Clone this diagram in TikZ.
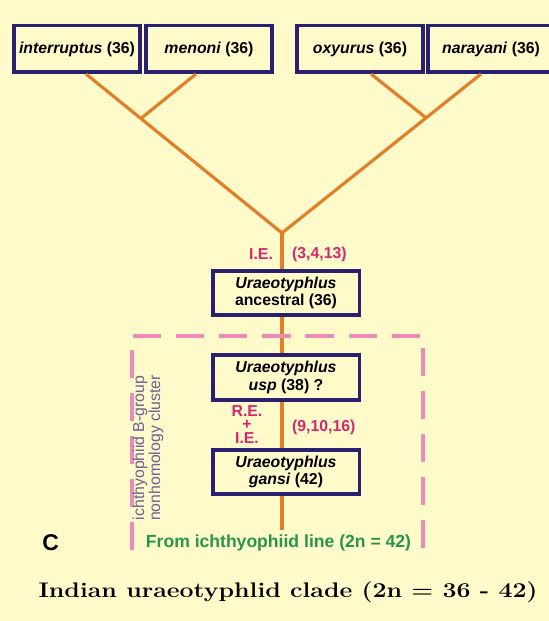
\documentclass[tikz,border=0pt]{standalone}
\usepackage{fontspec}
\usepackage{xcolor}
\usepackage{tikz}
\usetikzlibrary{arrows.meta,positioning,calc}
\newfontfamily\arialfont{Liberation Sans}
\definecolor{bgyellow}{RGB}{255,250,202}
\definecolor{boxnavy}{RGB}{42,32,112}
\definecolor{branchorange}{RGB}{226,128,42}
\definecolor{eventpink}{RGB}{214,38,112}
\definecolor{clusterpink}{RGB}{236,140,182}
\definecolor{linegreen}{RGB}{40,150,72}
\definecolor{clustergray}{RGB}{110,96,150}

\begin{document}
\begin{tikzpicture}[font=\arialfont\bfseries\fontsize{9}{9.8}\selectfont,
        taxon/.style={draw=boxnavy, line width=2pt, fill=bgyellow, inner sep=1pt, align=center},
        branch/.style={draw=branchorange, line width=1.8pt},
        event/.style={text=eventpink, inner sep=1pt, align=center},
        cluster/.style={draw=clusterpink, line width=1.8pt, dash pattern=on 16pt off 8.5pt}]
            \fill[bgyellow] (0,0) rectangle (10.98,12.42);
            \useasboundingbox (0,0) rectangle (10.98,12.42);
            \clip (0,0) rectangle (10.98,12.42);
            % top row of species
            \foreach \x/\name/\lab in {1.54/inter/interruptus,4.18/men/menoni,7.20/oxy/oxyurus,9.82/nar/narayani} {
                    \node[taxon, minimum width=2.52cm, minimum height=0.93cm] (\name) at (\x,11.44) {\textit{\lab} (36)};
                }
            \node[taxon, minimum width=2.93cm, minimum height=0.89cm] (anc) at (5.72,6.56) {\textit{Uraeotyphlus}\\ancestral (36)};
            \node[taxon, minimum width=2.93cm, minimum height=0.89cm] (usp) at (5.72,4.87) {\textit{Uraeotyphlus}\\\textit{usp} (38) ?};
            \node[taxon, minimum width=2.93cm, minimum height=0.89cm] (gansi) at (5.72,2.98) {\textit{Uraeotyphlus}\\\textit{gansi} (42)};
            % tree
            \coordinate (apex) at (5.64,7.76);
            \coordinate (stemend) at (5.64,1.82);
            \coordinate (jl) at ($([xshift=0.18cm]inter.south)!0.28!(apex)$);
            \coordinate (jr) at ($([xshift=-0.20cm]nar.south)!0.276!(apex)$);
            \draw[branch] ([xshift=0.18cm]inter.south) -- (apex);
            \draw[branch] ([xshift=-0.20cm]nar.south) -- (apex);
            \draw[branch] ([xshift=-0.26cm]men.south) -- (jl);
            \draw[branch] ([xshift=0.22cm]oxy.south) -- (jr);
            \draw[branch] (apex) -- (apex |- anc.north);
            \draw[branch] (apex |- anc.south) -- (apex |- usp.north);
            \draw[branch] (apex |- usp.south) -- (apex |- gansi.north);
            \draw[branch] (apex |- gansi.south) -- (stemend);
            % events
            \node[event, anchor=east] (ie) at (5.50,7.34) {I.E.};
            \node[event, anchor=west] (ienum) at (5.80,7.34) {(3,4,13)};
            \node[event, font=\arialfont\bfseries\fontsize{9}{7.8}\selectfont] (reie) at (4.94,3.93) {R.E.\\+\\I.E.};
            \node[event, anchor=west] (reienum) at (5.80,3.88) {(9,10,16)};
            % cluster
            \draw[cluster] (2.64,1.42) -- (2.64,5.70) -- (8.46,5.70) -- (8.46,1.42);
            \node[rotate=90, align=center, text=clustergray, font=\arialfont\fontsize{9}{9.2}\selectfont] (clusterlab) at (2.96,3.46) {ichthyophiid B-group\\nonhomology cluster};
            \node[text=linegreen, font=\arialfont\bfseries\fontsize{10}{12}\selectfont] (fromline) at (5.57,1.56) {From ichthyophiid line (2n = 42)};
            \node[font=\arialfont\bfseries\fontsize{13}{13}\selectfont] (panel) at (1.01,1.56) {C};
            \node[font=\rmfamily\bfseries\fontsize{12}{14}\selectfont] (title) at (5.76,0.58) {\scalebox{1.18}[1]{Indian uraeotyphlid clade (2n = 36 - 42)}};
        \end{tikzpicture}
\end{document}
